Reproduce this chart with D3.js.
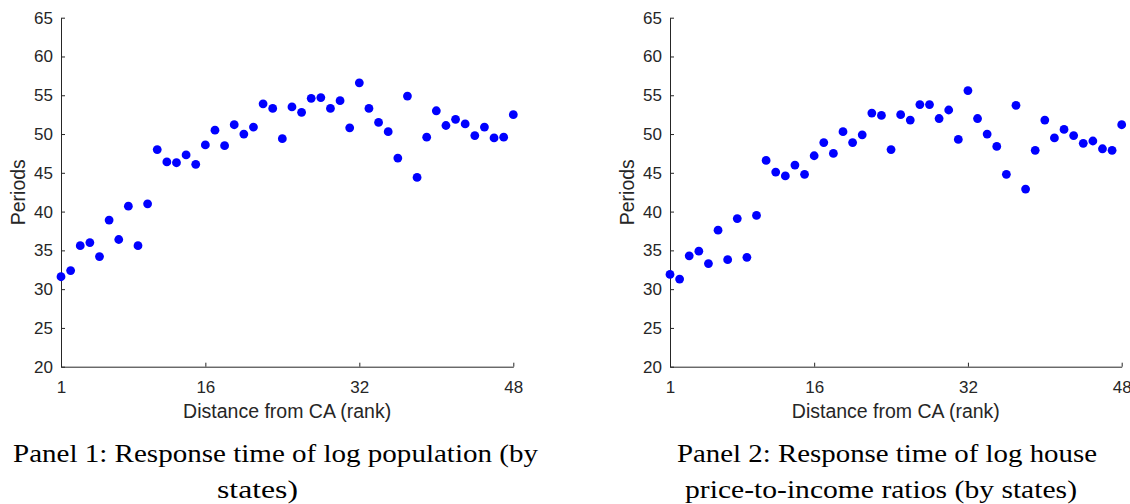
<!DOCTYPE html>
<html>
<head>
<meta charset="utf-8">
<script src="https://cdn.jsdelivr.net/npm/d3@7"></script>
<style>
  body { margin: 0; background: #fff; }
  .tick text { font-family: "Liberation Sans", Arial, sans-serif; font-size: 17px; fill: #262626; }
  .tick line, .domain { stroke: #262626; }
  .axis-label { font-family: "Liberation Sans", Arial, sans-serif; font-size: 19.5px; fill: #262626; }
  .caption { font-family: "Liberation Serif", serif; font-size: 24.5px; fill: #000; }
</style>
</head>
<body>
<div id="chart"></div>
<script>
// ranks 1..48 on the x axis
var ranks = d3.range(1, 49);
var xTicks = [1, 16, 32, 48];
var yTicks = [20, 25, 30, 35, 40, 45, 50, 55, 60, 65];

// response time (periods), log population
var popPeriods = [31.6, 32.4, 35.6, 36.0, 34.2, 38.9, 36.4, 40.7, 35.6, 41.0,
  48.0, 46.4, 46.3, 47.3, 46.1, 48.6, 50.5, 48.5, 51.2, 50.0,
  50.9, 53.9, 53.3, 49.4, 53.5, 52.8, 54.6, 54.7, 53.3, 54.3,
  50.8, 56.6, 53.3, 51.5, 50.3, 46.9, 54.9, 44.4, 49.6, 53.0,
  51.1, 51.9, 51.3, 49.8, 50.9, 49.5, 49.6, 52.5];

// response time (periods), log house price-to-income
var hpiPeriods = [31.9, 31.3, 34.3, 34.9, 33.3, 37.6, 33.8, 39.1, 34.1, 39.5,
  46.6, 45.1, 44.6, 46.0, 44.8, 47.2, 48.9, 47.5, 50.3, 48.9,
  49.9, 52.7, 52.4, 48.0, 52.5, 51.8, 53.8, 53.8, 52.0, 53.1,
  49.3, 55.6, 52.0, 50.0, 48.4, 44.8, 53.7, 42.9, 47.9, 51.8,
  49.5, 50.6, 49.8, 48.8, 49.1, 48.1, 47.9, 51.2];

var captions = [
  ["Panel 1: Response time of log population (by", "states)"],
  ["Panel 2: Response time of log house", "price-to-income ratios (by states)"]
];

var svg = d3.select("#chart").append("svg")
  .attr("width", 1130)
  .attr("height", 504);

// layout of the two panels (pixels)
var panels = [
  {left: 61, right: 513.3, values: popPeriods, caption: captions[0], cx: [275.5, 257.5], len: [525, 81]},
  {left: 670, right: 1121.7, values: hpiPeriods, caption: captions[1], cx: [887, 881], len: [420, 392]}
];

var plotTop = 17.7, plotBottom = 366.7;

panels.forEach(function(p) {
  var x = d3.scaleLinear().domain([1, 48]).range([p.left, p.right]);
  var y = d3.scaleLinear().domain([20, 65]).range([plotBottom, plotTop]);

  svg.append("g")
    .attr("transform", "translate(0," + plotBottom + ")")
    .call(d3.axisBottom(x).tickValues(xTicks).tickSizeInner(-4).tickSizeOuter(0).tickPadding(10))
    .call(function(g) { g.selectAll(".tick text").attr("y", 14).attr("dy", "0.71em"); });

  svg.append("g")
    .attr("transform", "translate(" + p.left + ",0)")
    .call(d3.axisLeft(y).tickValues(yTicks).tickSizeInner(-4).tickSizeOuter(0))
    .call(function(g) { g.selectAll(".tick text").attr("x", -8); });

  svg.append("text")
    .attr("class", "axis-label")
    .attr("x", (p.left + p.right) / 2)
    .attr("y", 418)
    .attr("text-anchor", "middle")
    .text("Distance from CA (rank)");

  svg.append("text")
    .attr("class", "axis-label")
    .attr("transform", "rotate(-90)")
    .attr("x", -(plotTop + plotBottom) / 2)
    .attr("y", p.left - 36)
    .attr("text-anchor", "middle")
    .text("Periods");

  svg.append("g").selectAll("circle")
    .data(p.values)
    .enter().append("circle")
    .attr("cx", function(d, i) { return x(ranks[i]); })
    .attr("cy", function(d) { return y(d); })
    .attr("r", 4.4)
    .attr("fill", "#0000ff");

  svg.append("g").selectAll("text")
    .data(p.caption)
    .enter().append("text")
    .attr("class", "caption")
    .attr("x", function(d, i) { return p.cx[i]; })
    .attr("y", function(d, i) { return 462 + i * 36; })
    .attr("text-anchor", "middle")
    .attr("textLength", function(d, i) { return p.len[i]; })
    .attr("lengthAdjust", "spacingAndGlyphs")
    .text(function(d) { return d; });
});
</script>
</body>
</html>
